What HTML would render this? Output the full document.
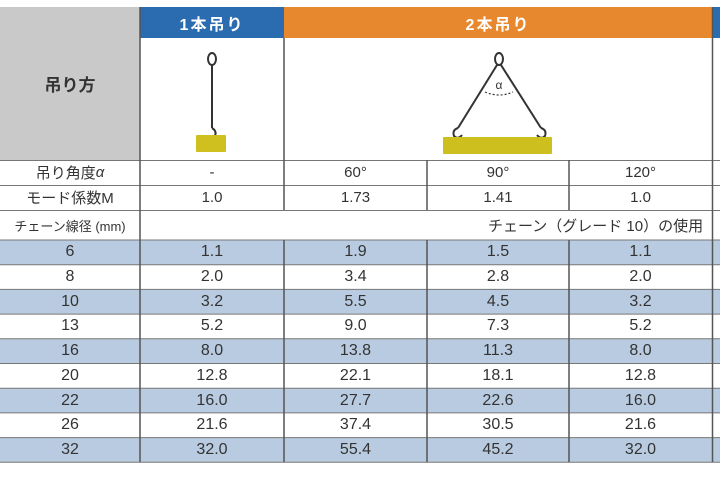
<!DOCTYPE html>
<html><head><meta charset="utf-8"><style>
body{margin:0;width:720px;height:496px;background:#fff;position:relative;overflow:hidden;font-family:"Liberation Sans","Noto Sans CJK JP",sans-serif;color:#333}
div{position:absolute;box-sizing:border-box}
.t{display:flex;align-items:center;justify-content:center;font-size:15px}
.h{color:#fff;font-weight:bold;font-size:16px;letter-spacing:2px}
.hl{background:#666;height:1px}
.vl{background:#555;width:1.5px}
</style></head><body>
<div style="left:0;top:7px;width:140px;height:153px;background:#c9c9c9" class="t"><b style="font-size:17px;color:#333">吊り方</b></div>
<div style="left:140px;top:7px;width:144px;height:31px;background:#2b6cb0" class="t h">1本吊り</div>
<div style="left:284px;top:7px;width:428px;height:31px;background:#e8882e" class="t h">2本吊り</div>
<div style="left:713px;top:7px;width:7px;height:31px;background:#2b6cb0"></div>
<!-- blue rows -->
<div style="left:0;top:240px;width:720px;height:24.7px;background:#b9cbe0"></div>
<div style="left:0;top:289.4px;width:720px;height:24.7px;background:#b9cbe0"></div>
<div style="left:0;top:338.8px;width:720px;height:24.7px;background:#b9cbe0"></div>
<div style="left:0;top:388.2px;width:720px;height:24.7px;background:#b9cbe0"></div>
<div style="left:0;top:437.6px;width:720px;height:24.7px;background:#b9cbe0"></div>
<!-- svg drawings and grid -->
<svg style="position:absolute;left:0;top:0" width="720" height="496">
<g stroke="#333" fill="none" stroke-width="2">
<ellipse cx="212" cy="59" rx="4" ry="6"/>
<line x1="212" y1="65" x2="212" y2="128"/>
<path d="M212 128 q5 3 3 8 q-3 4 -7 0"/>
<ellipse cx="499" cy="59" rx="4" ry="6"/>
<line x1="497" y1="65" x2="458" y2="128"/>
<line x1="501" y1="65" x2="541" y2="128"/>
<path d="M458 128 q-6 2 -4 8 q4 4 8 -1"/>
<path d="M541 128 q6 2 4 8 q-4 4 -8 -1"/>
<path d="M485 92 q14 6 28 0" stroke-dasharray="2 2" stroke-width="1.2"/>
</g>
<text x="499" y="89" font-size="12" text-anchor="middle" fill="#333" font-family="Liberation Sans">α</text>
<rect x="196" y="135" width="30" height="17" fill="#cfc020" rx="1"/>
<rect x="443" y="137" width="109" height="17" fill="#cdbf1e" rx="1"/>
<g stroke="#777" stroke-width="1">
<line x1="0" y1="160.5" x2="720" y2="160.5"/>
<line x1="0" y1="185.5" x2="720" y2="185.5"/>
<line x1="0" y1="210.5" x2="720" y2="210.5"/>
<line x1="0" y1="240" x2="720" y2="240"/>
<line x1="0" y1="264.7" x2="720" y2="264.7"/>
<line x1="0" y1="289.4" x2="720" y2="289.4"/>
<line x1="0" y1="314.1" x2="720" y2="314.1"/>
<line x1="0" y1="338.8" x2="720" y2="338.8"/>
<line x1="0" y1="363.5" x2="720" y2="363.5"/>
<line x1="0" y1="388.2" x2="720" y2="388.2"/>
<line x1="0" y1="412.9" x2="720" y2="412.9"/>
<line x1="0" y1="437.6" x2="720" y2="437.6"/>
<line x1="0" y1="462.3" x2="720" y2="462.3"/>
</g>
<g stroke="#555" stroke-width="1.5">
<line x1="140" y1="7" x2="140" y2="462"/>
<line x1="284" y1="38" x2="284" y2="210"/>
<line x1="284" y1="240" x2="284" y2="462"/>
<line x1="427" y1="160" x2="427" y2="210"/>
<line x1="427" y1="240" x2="427" y2="462"/>
<line x1="569" y1="160" x2="569" y2="210"/>
<line x1="569" y1="240" x2="569" y2="462"/>
<line x1="712.5" y1="7" x2="712.5" y2="462"/>
</g>
</svg>
<div class="t" style="left:0;top:160px;width:140px;height:25px">吊り角度 <i>α</i></div>
<div class="t" style="left:140px;top:160px;width:144px;height:25px">-</div>
<div class="t" style="left:284px;top:160px;width:143px;height:25px">60°</div>
<div class="t" style="left:427px;top:160px;width:142px;height:25px">90°</div>
<div class="t" style="left:569px;top:160px;width:143px;height:25px">120°</div>
<div class="t" style="left:0;top:185px;width:140px;height:25px">モード係数M</div>
<div class="t" style="left:140px;top:185px;width:144px;height:25px">1.0</div>
<div class="t" style="left:284px;top:185px;width:143px;height:25px">1.73</div>
<div class="t" style="left:427px;top:185px;width:142px;height:25px">1.41</div>
<div class="t" style="left:569px;top:185px;width:143px;height:25px">1.0</div>
<div class="t" style="left:0;top:210px;width:140px;height:30px;font-size:13px">チェーン線径 (mm)</div>
<div class="t" style="left:488px;top:210px;width:260px;height:30px;justify-content:flex-start;white-space:nowrap">チェーン（グレード 10）の使用</div>
<div id="rows"></div>
<script>
var d=[["6","1.1","1.9","1.5","1.1"],["8","2.0","3.4","2.8","2.0"],["10","3.2","5.5","4.5","3.2"],["13","5.2","9.0","7.3","5.2"],["16","8.0","13.8","11.3","8.0"],["20","12.8","22.1","18.1","12.8"],["22","16.0","27.7","22.6","16.0"],["26","21.6","37.4","30.5","21.6"],["32","32.0","55.4","45.2","32.0"]];
var xs=[[0,140],[140,144],[284,143],[427,142],[569,143]],h="";
d.forEach(function(r,i){r.forEach(function(v,j){h+='<div class="t" style="left:'+xs[j][0]+'px;top:'+(240+i*24.7)+'px;width:'+xs[j][1]+'px;height:24.7px;font-size:16px">'+v+'</div>';});});
document.body.insertAdjacentHTML("beforeend",h);
</script>
</body></html>
